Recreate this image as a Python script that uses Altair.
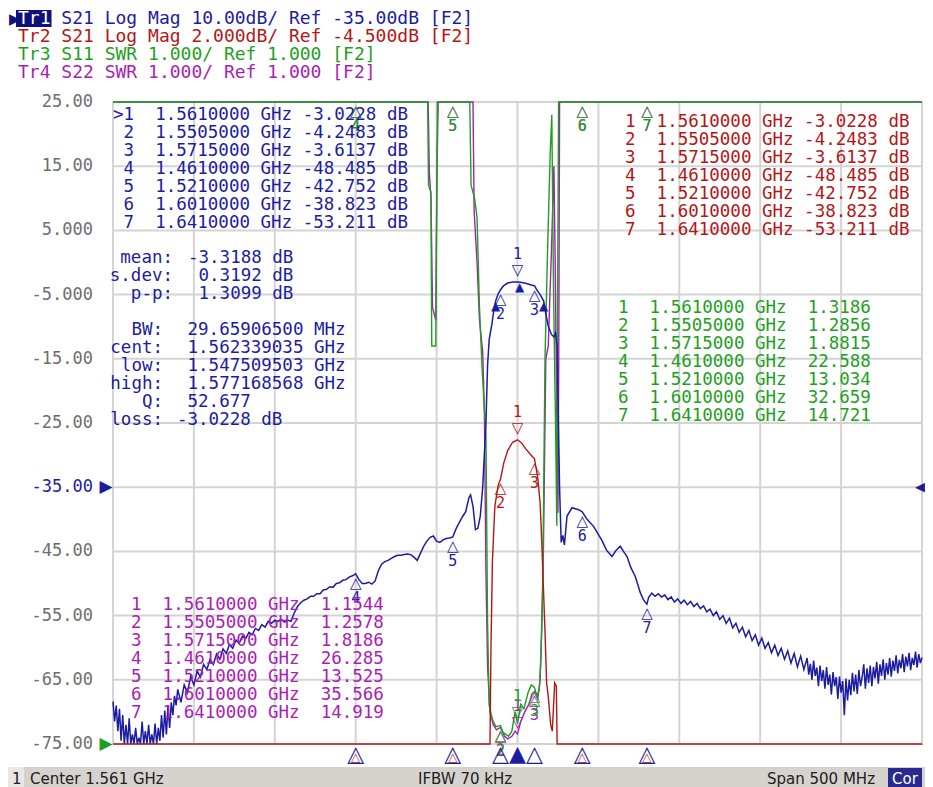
import altair as alt
import numpy as np
import pandas as pd

# ------------------------------------------------------------------ data
F_START_MHZ, F_STOP_MHZ = 1311.0, 1811.0
x_grid_mhz = [1311, 1361, 1411, 1461, 1511, 1561, 1611, 1661, 1711, 1761, 1811]
y_ticks = [25, 15, 5, -5, -15, -25, -35, -45, -55, -65, -75]
y_tick_labels = ["25.00", "15.00", "5.000", "-5.000", "-15.00", "-25.00",
                 "-35.00", "-45.00", "-55.00", "-65.00", "-75.00"]

header_names = ["Tr1", "Tr2", "Tr3", "Tr4"]
header_texts = ["S21 Log Mag 10.00dB/ Ref -35.00dB [F2]",
                "S21 Log Mag 2.000dB/ Ref -4.500dB [F2]",
                "S11 SWR 1.000/ Ref 1.000 [F2]",
                "S22 SWR 1.000/ Ref 1.000 [F2]"]

# Tr1  S21 log magnitude (dB)
tr1_freq_mhz = [
    1311, 1312, 1313, 1314, 1315, 1316, 1317, 1318, 1319, 1320,
    1321, 1322, 1323, 1324, 1325, 1326, 1327, 1328, 1329, 1330,
    1331, 1332, 1333, 1334, 1335, 1336, 1337, 1338, 1339, 1340,
    1341, 1342, 1343, 1344, 1345, 1346, 1347, 1348, 1349, 1350,
    1351, 1353, 1355, 1357, 1359, 1361, 1363, 1365, 1367, 1369,
    1371, 1373, 1375, 1377, 1379, 1381, 1383, 1385, 1387, 1389,
    1391, 1393, 1395, 1397, 1399, 1401, 1403, 1405, 1407, 1409,
    1411, 1413, 1415, 1417, 1419, 1421, 1423, 1425, 1427, 1429,
    1431, 1433, 1435, 1437, 1439, 1441, 1443, 1445, 1447, 1449,
    1451, 1453, 1455, 1457, 1459, 1461, 1463, 1465, 1467, 1469,
    1471, 1473, 1475, 1477, 1479, 1481, 1483, 1485, 1487, 1489,
    1491, 1493, 1495, 1497, 1499, 1501, 1503, 1505, 1507, 1509,
    1511, 1513, 1515, 1517, 1519, 1521, 1523, 1525, 1527, 1529,
    1531, 1532, 1533.5, 1535, 1536.5, 1538, 1539.5, 1540.5, 1541.5, 1542.5,
    1543.5, 1545.3, 1546.5, 1547.5, 1549, 1550.5, 1552.5, 1555, 1558, 1561,
    1564, 1567, 1569.5, 1571.5, 1573, 1575, 1577.2, 1578.5, 1580, 1582,
    1583.5, 1584.5, 1585.5, 1586.3, 1587, 1588, 1589, 1590, 1591.6, 1594.7,
    1598.8, 1601, 1604, 1608, 1613, 1616, 1619.4, 1622, 1624.5, 1626.5,
    1628.7, 1631, 1633.8, 1637, 1639, 1641,
    1642, 1644, 1646, 1648, 1650, 1652, 1654, 1656, 1658, 1660,
    1662, 1664, 1666, 1668, 1670, 1672, 1674, 1676, 1678, 1680,
    1682, 1684, 1686, 1688, 1690, 1692, 1694, 1696, 1698, 1700,
    1702, 1704, 1706, 1708, 1710, 1712, 1714, 1716, 1718, 1720,
    1722, 1724, 1726, 1728, 1730, 1732, 1734, 1736, 1738,
    1740, 1741, 1742, 1743, 1744, 1745, 1746, 1747, 1748, 1749,
    1750, 1751, 1752, 1753, 1754, 1755, 1756, 1757, 1758, 1759,
    1760, 1761, 1762, 1763, 1764, 1765, 1766, 1767, 1768, 1769,
    1770, 1771, 1772, 1773, 1774, 1775, 1776, 1777, 1778, 1779,
    1780, 1781, 1782, 1783, 1784, 1785, 1786, 1787, 1788, 1789,
    1790, 1791, 1792, 1793, 1794, 1795, 1796, 1797, 1798, 1799,
    1800, 1801, 1802, 1803, 1804, 1805, 1806, 1807, 1808, 1809,
    1810, 1811]
tr1_db = [
    -68.4, -71.5, -69.0, -73.0, -69.5, -74.5, -70.5, -76.0, -72.0, -76.0,
    -71.0, -77.0, -73.5, -76.0, -72.5, -77.0, -74.0, -76.0, -71.5, -76.5,
    -73.0, -77.0, -72.0, -76.0, -73.5, -75.5, -71.8, -75.5, -72.5, -74.5,
    -70.5, -74.0, -69.8, -73.5, -69.0, -72.5, -68.5, -70.5, -67.5, -69.0,
    -66.5, -68.5, -65.8, -67.0, -64.5, -65.8, -63.6, -64.6, -62.6, -63.4,
    -61.8, -62.6, -61.0, -61.8, -60.2, -60.9, -59.5, -60.1, -58.8, -59.3,
    -58.2, -58.6, -57.6, -58.0, -57.0, -57.3, -56.4, -56.8, -55.9, -56.2,
    -55.7, -55.9, -55.6, -56.0, -55.7, -55.9, -54.6, -53.6, -53.0, -52.6,
    -52.4, -52.0, -52.0, -51.6, -51.6, -51.0, -50.9, -50.5, -50.6, -50.0,
    -49.9, -49.5, -49.4, -49.0, -48.8, -48.485, -49.4, -50.0, -50.0, -49.8,
    -50.1, -49.6, -48.0, -47.0, -46.6, -46.4, -46.1, -45.8, -45.6, -45.6,
    -45.5, -45.4, -45.5, -45.9, -46.4, -45.3, -44.2, -43.4, -42.8, -42.6,
    -43.4, -43.6, -43.2, -43.0, -42.9, -42.752, -41.5, -40.5, -39.6, -38.8,
    -36.6, -36.2, -38.0, -41.6, -41.4, -39.5, -35.0, -30.0, -25.0, -16.0,
    -12.0, -9.4, -7.2, -6.0, -4.9, -4.2483, -3.6, -3.2, -3.05, -3.0228,
    -3.1, -3.3, -3.5, -3.6137, -4.3, -5.0, -6.0, -8.0, -9.9, -11.2,
    -11.6, -11.0, -13.0, -25.0, -35.0, -43.6, -42.5, -44.0, -39.5, -38.2,
    -38.5, -38.823, -40.0, -41.1, -43.2, -44.8, -45.8, -44.8, -44.2, -45.0,
    -45.8, -47.5, -48.9, -51.5, -52.6, -53.211,
    -52.2, -51.5, -52.0, -51.6, -52.1, -51.8, -52.5, -52.1, -52.9, -52.4,
    -53.1, -52.6, -53.3, -52.8, -53.6, -53.1, -53.9, -53.5, -54.4, -54.0,
    -55.0, -54.4, -55.6, -55.0, -56.2, -55.4, -56.9, -56.2, -57.6, -56.8,
    -58.3, -57.3, -58.9, -58.0, -59.6, -58.5, -60.1, -59.2, -60.8, -59.6,
    -61.2, -60.1, -61.8, -60.5, -62.4, -60.9, -63.0, -61.3, -63.4,
    -61.6, -64.2, -62.5, -65.0, -62.0, -64.4, -63.1, -66.0, -62.8, -65.2,
    -63.5, -66.4, -63.0, -65.8, -64.2, -67.3, -63.8, -66.0, -64.6, -68.0,
    -64.5, -67.0, -65.2, -70.5, -64.8, -68.2, -65.0, -67.4, -63.9, -66.8,
    -64.2, -67.2, -63.5, -66.0, -64.6, -62.6, -66.4, -63.2, -65.5, -62.8,
    -66.0, -63.0, -64.8, -62.2, -65.6, -62.6, -64.4, -61.8, -65.0, -62.4,
    -64.2, -61.6, -64.5, -62.0, -63.6, -61.2, -64.0, -61.9, -63.2, -61.0,
    -63.8, -61.4, -62.9, -60.8, -63.5, -61.6, -62.7, -60.6, -63.1, -61.0,
    -62.4, -61.5]

# Tr2  S21 log magnitude (dB), 2 dB/div
tr2_freq_mhz = [1311.0, 1544.0, 1544.6, 1545.5, 1547.0, 1549.0, 1550.5, 1552.5, 1555.0, 1558.0,
                1561.0, 1563.5, 1566.0, 1568.5, 1571.5, 1573.5, 1575.0, 1576.0, 1577.0, 1578.0,
                1579.0, 1580.0, 1581.5, 1582.5, 1583.3, 1584.0, 1585.0, 1585.5, 1811.0]
tr2_db = [-14.0, -14.0, -9.5, -6.8, -5.1, -4.45, -4.2483, -3.75, -3.35, -3.1,
          -3.0228, -3.12, -3.3, -3.45, -3.6137, -4.2, -5.0, -6.2, -7.6, -9.0,
          -10.6, -11.0, -11.9, -12.1, -11.3, -10.6, -10.7, -14.0, -14.0]

# Tr3  S11 SWR
tr3_freq_mhz = [1311.0, 1505.5, 1506.0, 1507.5, 1508.0, 1510.5, 1511.5, 1531.5, 1532.3, 1534.5,
                1536.0, 1537.5, 1539.2, 1541.5, 1542.5, 1543.5, 1545.5, 1547.6, 1550.5, 1552.0,
                1555.5, 1557.5, 1559.5, 1561.0, 1563.0, 1565.0, 1567.5, 1569.5, 1571.5, 1573.0,
                1574.5, 1575.5, 1576.5, 1577.0, 1578.0, 1579.5, 1581.2, 1582.2, 1583.3, 1584.5,
                1585.3, 1585.8, 1586.4, 1811.0]
tr3_swr = [12, 12, 9.7, 9.6, 7.2, 7.2, 12, 12, 9.7, 9.5,
           9.2, 7.8, 6.8, 5.8, 2.9, 1.6, 1.38, 1.27, 1.2856, 1.18,
           1.12, 1.2, 1.5, 1.3186, 1.62, 1.55, 1.8, 1.92, 1.8815, 1.75,
           1.85, 2.4, 3.4, 4.5, 7.0, 8.6, 10.2, 10.8, 8.0, 6.0,
           4.4, 8.0, 12, 12]

# Tr4  S22 SWR
tr4_freq_mhz = [1311.0, 1505.8, 1506.5, 1507.5, 1508.5, 1510.5, 1511.2, 1512.0, 1533.5, 1534.2,
                1536.0, 1537.5, 1539.5, 1540.5, 1541.5, 1542.5, 1544.0, 1546.0, 1548.0, 1550.5,
                1553.0, 1555.0, 1557.5, 1559.5, 1561.0, 1563.0, 1565.5, 1568.0, 1570.0, 1571.5,
                1573.5, 1575.0, 1576.0, 1577.0, 1578.5, 1580.0, 1582.0, 1583.5, 1584.3, 1585.5,
                1586.0, 1586.5, 1587.0, 1811.0]
tr4_swr = [12, 12, 9.9, 9.5, 7.8, 7.6, 9.9, 12, 12, 9.3,
           8.5, 7.6, 7.1, 6.2, 3.7, 2.2, 1.5, 1.3, 1.22, 1.2578,
           1.12, 1.08, 1.12, 1.2, 1.1544, 1.35, 1.5, 1.62, 1.78, 1.8186,
           1.7, 2.0, 2.8, 4.0, 7.0, 7.2, 8.7, 10.0, 8.5, 5.6,
           4.6, 7.0, 12, 12]

marker_ids = [1, 2, 3, 4, 5, 6, 7]
marker_freq_mhz = [1561.0, 1550.5, 1571.5, 1461.0, 1521.0, 1601.0, 1641.0]
marker_freq_ghz = ["1.5610000", "1.5505000", "1.5715000", "1.4610000",
                   "1.5210000", "1.6010000", "1.6410000"]
tr1_marker_db = [-3.0228, -4.2483, -3.6137, -48.485, -42.752, -38.823, -53.211]
tr2_marker_db = [-3.0228, -4.2483, -3.6137, -48.485, -42.752, -38.823, -53.211]
tr3_marker_swr = [1.3186, 1.2856, 1.8815, 22.588, 13.034, 32.659, 14.721]
tr4_marker_swr = [1.1544, 1.2578, 1.8186, 26.285, 13.525, 35.566, 14.919]

bw_search_freq_mhz = [1547.509503, 1562.339035, 1577.168568]
bw_search_db = [-6.0228, -3.0228, -6.0228]

stats_labels = ["mean:", "s.dev:", "p-p:"]
stats_values = ["-3.3188 dB", " 0.3192 dB", " 1.3099 dB"]
bw_labels = ["BW:", "cent:", "low:", "high:", "Q:", "loss:"]
bw_values = [" 29.65906500 MHz", " 1.562339035 GHz", " 1.547509503 GHz",
             " 1.577168568 GHz", " 52.677", "-3.0228 dB"]

footer_channel = "1"
footer_left = "Center 1.561 GHz"
footer_mid = "IFBW 70 kHz"
footer_right = "Span 500 MHz"
footer_flag = "Cor"

# ------------------------------------------------------------------ style
PLOT_W, PLOT_H = 809, 642
PAD = {"left": 105, "top": 94, "right": 3, "bottom": 43}
BLUE = "#1c1ca2"
RED = "#b41616"
GREEN = "#1ea01e"
MAGENTA = "#aa1eb4"
GRID = "#d4d4d4"
TICK_GRAY = "#6e6e6e"
MONO = "DejaVu Sans Mono"
SANS = "DejaVu Sans"
FS = 17.5
CW = FS * 0.6021     # advance of one monospace character
FSH = 18.0           # header font size
CWH = FSH * 0.6021
ROW = 18


def nb(s):
    return s.replace(" ", "\u00a0")


def logmag_div(v, ref, per_div):
    # reference level sits on the -35 graticule line (6th line from the top)
    return -35.0 + (np.asarray(v, float) - ref) * 10.0 / per_div


def swr_div(v):
    # reference 1.000 on the bottom line, 1.000 per division
    return -75.0 + (np.asarray(v, float) - 1.0) * 10.0


def clip(d):
    return np.clip(np.asarray(d, float), -75.0, 25.0)


X = alt.X("f:Q", scale=alt.Scale(domain=[F_START_MHZ, F_STOP_MHZ], nice=False, zero=False), axis=None)
Y = alt.Y("y:Q", scale=alt.Scale(domain=[-75, 25], nice=False, zero=False), axis=None)
PX = alt.X("px:Q", scale=None, axis=None)
PY = alt.Y("py:Q", scale=None, axis=None)
ONE = pd.DataFrame({"a": [0]})

layers = []

# grid
layers.append(alt.Chart(pd.DataFrame({"f": x_grid_mhz})).mark_rule(color=GRID, strokeWidth=2)
              .encode(x=X, y=alt.value(0), y2=alt.value(PLOT_H)))
layers.append(alt.Chart(pd.DataFrame({"y": y_ticks})).mark_rule(color=GRID, strokeWidth=2)
              .encode(y=Y, x=alt.value(0), x2=alt.value(PLOT_W)))


def trace(f, d, color, width=1.4):
    df = pd.DataFrame({"f": f, "y": clip(d), "i": np.arange(len(f))})
    return (alt.Chart(df).mark_line(color=color, strokeWidth=width, clip=False)
            .encode(x=X, y=Y, order=alt.Order("i:Q")))


disp1 = logmag_div(tr1_db, -35.0, 10.0)
disp2 = logmag_div(tr2_db, -4.5, 2.0)
disp3 = swr_div(tr3_swr)
disp4 = swr_div(tr4_swr)

layers.append(trace(tr4_freq_mhz, disp4, MAGENTA))
layers.append(trace(tr3_freq_mhz, disp3, GREEN))
layers.append(trace(tr1_freq_mhz, disp1, BLUE, 1.5))
layers.append(trace(tr2_freq_mhz, disp2, RED))


def marker_layers(disp, color, shown):
    d = clip(disp)
    out = []
    for above in (True, False):
        idx = [k for k in range(len(marker_ids))
               if marker_ids[k] in shown and ((marker_ids[k] == 1) == above)]
        if not idx:
            continue
        df = pd.DataFrame({"f": [marker_freq_mhz[k] for k in idx],
                           "y": [d[k] for k in idx],
                           "t": [str(marker_ids[k]) for k in idx]})
        gdy, ldy = (-12, -28) if above else (9, 24)
        out.append(alt.Chart(df).mark_text(text="▽" if above else "△", color=color, dy=gdy,
                                           fontSize=15, font=SANS, baseline="middle")
                   .encode(x=X, y=Y))
        out.append(alt.Chart(df).mark_text(color=color, dy=ldy, fontSize=15, font=MONO,
                                           baseline="middle")
                   .encode(x=X, y=Y, text="t:N"))
    return out


layers += marker_layers(swr_div(tr4_marker_swr), MAGENTA, set(marker_ids))
layers += marker_layers(swr_div(tr3_marker_swr), GREEN, set(marker_ids))
layers += marker_layers(logmag_div(tr2_marker_db, -4.5, 2.0), RED, {1, 2, 3})
layers += marker_layers(logmag_div(tr1_marker_db, -35.0, 10.0), BLUE, set(marker_ids))

# bandwidth-search markers (filled)
layers.append(alt.Chart(pd.DataFrame({"f": bw_search_freq_mhz, "y": bw_search_db}))
              .mark_text(text="▲", color=BLUE, dy=5, fontSize=12, font=SANS, baseline="middle")
              .encode(x=X, y=Y))

# marker position indicators under the grid
red_off = logmag_div(tr2_marker_db, -4.5, 2.0) < -75
ind = pd.DataFrame({"f": marker_freq_mhz, "active": [m == 1 for m in marker_ids], "red": red_off})
layers.append(alt.Chart(ind[~ind["active"]]).mark_text(text="△", color=BLUE, fontSize=22, font=SANS,
                                                       baseline="middle")
              .encode(x=X, y=alt.value(PLOT_H + 10)))
layers.append(alt.Chart(ind[ind["active"]]).mark_text(text="▲", color=BLUE, fontSize=22, font=SANS,
                                                      baseline="middle")
              .encode(x=X, y=alt.value(PLOT_H + 10)))
layers.append(alt.Chart(ind[ind["red"]]).mark_text(text="△", color=RED, fontSize=12, font=SANS,
                                                   baseline="middle")
              .encode(x=X, y=alt.value(PLOT_H + 13)))

# reference level arrows
layers.append(alt.Chart(pd.DataFrame({"y": [-35.0, -75.0], "c": [BLUE, GREEN]}))
              .mark_text(text="▶", fontSize=17, font=SANS, baseline="middle")
              .encode(x=alt.value(-7), y=Y, color=alt.Color("c:N", scale=None)))
layers.append(alt.Chart(pd.DataFrame({"y": [-35.0]}))
              .mark_text(text="◀", fontSize=13, font=SANS, baseline="middle", align="right", color=BLUE)
              .encode(x=alt.value(PLOT_W + 3), y=Y))

# y tick labels
tick_df = pd.DataFrame({"y": y_ticks, "t": y_tick_labels,
                        "c": [BLUE if v == -35 else TICK_GRAY for v in y_ticks]})
layers.append(alt.Chart(tick_df).mark_text(align="right", baseline="middle", font=MONO, fontSize=17)
              .encode(x=alt.value(-20), y=Y, text="t:N", color=alt.Color("c:N", scale=None)))


def text_block(lines, x, y0, color, align="left", size=FS, font=MONO, step=ROW):
    lead = [len(s) - len(s.lstrip(" ")) for s in lines]
    df = pd.DataFrame({"t": [nb(s.lstrip(" ")) for s in lines],
                       "px": [x + CW * n if align == "left" else x for n in lead],
                       "py": [y0 + step * i for i in range(len(lines))]})
    return (alt.Chart(df).mark_text(align=align, baseline="middle", font=font, fontSize=size, color=color)
            .encode(x=PX, y=PY, text="t:N"))


# marker tables
tr1_rows = [f"{'>' if n == 1 else ' '}{n}  {fg} GHz {v:.5g} dB"
            for n, fg, v in zip(marker_ids, marker_freq_ghz, tr1_marker_db)]
tr2_rows = [f"{n}  {fg} GHz {v:.5g} dB" for n, fg, v in zip(marker_ids, marker_freq_ghz, tr2_marker_db)]
tr3_rows = [f"{n}  {fg} GHz  {v:.5g}" for n, fg, v in zip(marker_ids, marker_freq_ghz, tr3_marker_swr)]
tr4_rows = [f"{n}  {fg} GHz  {v:.5g}" for n, fg, v in zip(marker_ids, marker_freq_ghz, tr4_marker_swr)]

layers.append(text_block(tr1_rows, 0, 13, BLUE))
layers.append(text_block(tr2_rows, 512, 20, RED))
layers.append(text_block(tr3_rows, 505, 206, GREEN))
layers.append(text_block(tr4_rows, 18, 503, MAGENTA))

# statistics / bandwidth readouts
layers.append(text_block(stats_labels, 60, 156, BLUE, align="right"))
layers.append(text_block(stats_values, 75, 156, BLUE))
layers.append(text_block(bw_labels, 50, 228, BLUE, align="right", step=17.9))
layers.append(text_block(bw_values, 64, 228, BLUE, step=17.9))

# header
header_colors = [BLUE, RED, GREEN, MAGENTA]
HX = -95
for i, (name, txt, col) in enumerate(zip(header_names, header_texts, header_colors)):
    yy = -83 + ROW * i
    layers.append(alt.Chart(ONE).mark_text(text=nb(txt), align="left", baseline="middle", font=MONO,
                                           fontSize=FSH, color=col)
                  .encode(x=alt.value(HX + 4 * CWH), y=alt.value(yy)))
    if i == 0:
        layers.append(alt.Chart(ONE).mark_rect(color="#10107a")
                      .encode(x=alt.value(HX - 2), x2=alt.value(HX + 3 * CWH + 1),
                              y=alt.value(yy - 9), y2=alt.value(yy + 8)))
        layers.append(alt.Chart(ONE).mark_text(text=name, align="left", baseline="middle", font=MONO,
                                               fontSize=FSH, color="white")
                      .encode(x=alt.value(HX), y=alt.value(yy)))
        layers.append(alt.Chart(ONE).mark_text(text="▶", align="left", baseline="middle", font=SANS,
                                               fontSize=15, color="#10107a")
                      .encode(x=alt.value(-104), y=alt.value(yy)))
    else:
        layers.append(alt.Chart(ONE).mark_text(text=name, align="left", baseline="middle", font=MONO,
                                               fontSize=FSH, color=col)
                      .encode(x=alt.value(HX), y=alt.value(yy)))

# footer / status bar
FY0, FY1 = 665, 686
layers.append(alt.Chart(ONE).mark_rect(color="#d6d3ce")
              .encode(x=alt.value(-105), x2=alt.value(PLOT_W + 3), y=alt.value(FY0), y2=alt.value(FY1)))
layers.append(alt.Chart(ONE).mark_rect(color="#e9e7e3")
              .encode(x=alt.value(-105), x2=alt.value(-89), y=alt.value(FY0), y2=alt.value(FY1)))
layers.append(alt.Chart(ONE).mark_rect(color="#2a2a8c")
              .encode(x=alt.value(775), x2=alt.value(809), y=alt.value(FY0 + 1), y2=alt.value(FY1)))
for txt, xx, col in [(footer_channel, -101, "#202020"), (footer_left, -83, "#202020"),
                     (footer_mid, 305, "#202020"), (footer_right, 654, "#202020"),
                     (footer_flag, 779, "white")]:
    layers.append(alt.Chart(ONE).mark_text(text=txt, align="left", baseline="middle", font=SANS,
                                           fontSize=15, color=col)
                  .encode(x=alt.value(xx), y=alt.value((FY0 + FY1) / 2 + 1)))

chart = (alt.layer(*layers)
         .properties(width=PLOT_W, height=PLOT_H, padding=PAD,
                     autosize=alt.AutoSizeParams(type="none"), background="white")
         .resolve_scale(x="independent", y="independent")
         .configure_view(stroke="#707070", strokeWidth=1))

chart.save("out.html", embed_options={"renderer": "svg", "actions": False})
